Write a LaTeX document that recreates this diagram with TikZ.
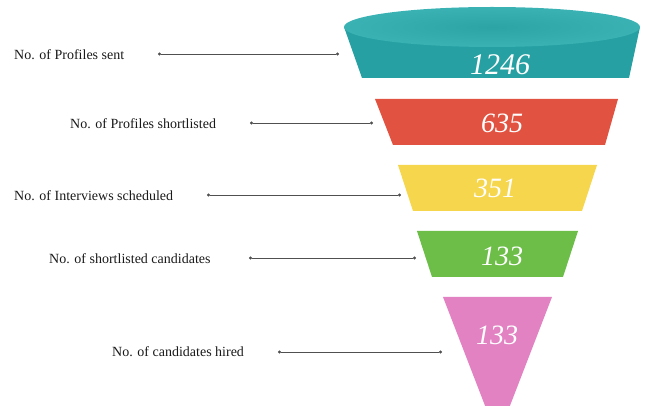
\documentclass[tikz,border=0pt]{standalone}
\usepackage{fontspec}
\setmainfont{Liberation Serif}
\usetikzlibrary{arrows.meta}
\definecolor{tealbody}{RGB}{38,160,162}
\definecolor{tealtop}{RGB}{58,178,180}
\definecolor{tealmid}{RGB}{44,164,166}
\definecolor{redf}{RGB}{226,82,64}
\definecolor{yellowf}{RGB}{246,214,76}
\definecolor{greenf}{RGB}{108,190,72}
\definecolor{pinkf}{RGB}{226,130,194}
\definecolor{conncol}{RGB}{80,80,80}
\begin{document}
\begin{tikzpicture}[x=1pt,y=-1pt,
  lbl/.style={font=\fontsize{14}{16}\selectfont, anchor=west, inner sep=0pt, text=black!90},
  num/.style={font=\fontsize{28}{30}\selectfont\itshape, text=white, inner sep=0pt},
  conn/.style={draw=conncol, line width=0.7pt, {Circle[length=3pt]}-{Circle[length=3pt]}}]
\useasboundingbox (0,0) rectangle (651,406);
\clip (0,0) rectangle (651,406);
% teal funnel top
\fill[tealbody] (344,27) -- (362,78) -- (629,78) -- (640,27) -- cycle;
\shade[inner color=tealmid, outer color=tealtop] (492,27) ellipse [x radius=148pt, y radius=20pt];
% red
\fill[redf] (375,99) -- (618,99) -- (605,145) -- (393,145) -- cycle;
% yellow
\fill[yellowf] (398,165) -- (597,165) -- (582,211) -- (413,211) -- cycle;
% green
\fill[greenf] (417,231) -- (578,231) -- (563,277) -- (432,277) -- cycle;
% pink
\fill[pinkf] (443,297) -- (552,297) -- (497.5,438) -- cycle;
% numbers
\node[num, font=\fontsize{30}{32}\selectfont\itshape] (n1) at (500,65) {1246};
\node[num] (n2) at (502,123) {635};
\node[num] (n3) at (495,188) {351};
\node[num] (n4) at (502,256) {133};
\node[num] (n5) at (497,335) {133};
% labels
\node[lbl] (l1) at (14,55) {No. of Profiles sent};
\node[lbl] (l2) at (70,124) {No. of Profiles shortlisted};
\node[lbl] (l3) at (14,196) {No. of Interviews scheduled};
\node[lbl] (l4) at (49,259) {No. of shortlisted candidates};
\node[lbl] (l5) at (112,352) {No. of candidates hired};
% connector ends
\coordinate (s1) at (158,54);  \coordinate (e1) at (339,54);
\coordinate (s2) at (250,123); \coordinate (e2) at (373,123);
\coordinate (s3) at (207,195); \coordinate (e3) at (401,195);
\coordinate (s4) at (249,258); \coordinate (e4) at (416,258);
\coordinate (s5) at (278,352); \coordinate (e5) at (442,352);
\draw[conn] (s1) -- (e1);
\draw[conn] (s2) -- (e2);
\draw[conn] (s3) -- (e3);
\draw[conn] (s4) -- (e4);
\draw[conn] (s5) -- (e5);
\end{tikzpicture}
\end{document}
